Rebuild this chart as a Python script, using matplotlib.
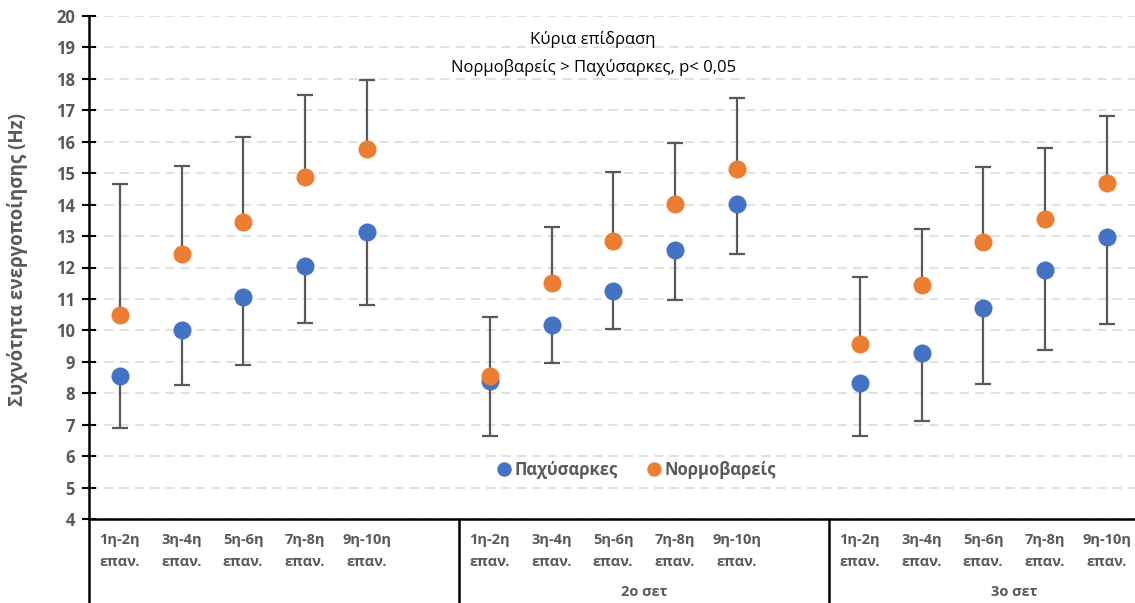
#!/usr/bin/env python3
"""Activation frequency per repetition pair and set, obese vs normal-weight groups."""

import matplotlib
matplotlib.use("Agg")
import matplotlib.pyplot as plt
from matplotlib.transforms import blended_transform_factory
import numpy as np

plt.rcParams["font.family"] = ["Open Sans", "DejaVu Sans"]

# -- Data --------------------------------------------------
reps = ["1η-2η", "3η-4η", "5η-6η", "7η-8η", "9η-10η"]
sets = ["", "2ο σετ", "3ο σετ"]

obese_mean = [8.54, 10.01, 11.05, 12.06, 13.14,
              8.40, 10.17, 11.25, 12.56, 14.03,
              8.34, 9.27, 10.72, 11.93, 12.98]
obese_low = [6.90, 8.25, 8.90, 10.24, 10.82,
             6.65, 8.96, 10.03, 10.97, 12.44,
             6.65, 7.12, 8.28, 9.36, 10.19]

normal_mean = [10.49, 12.44, 13.44, 14.89, 15.77,
               8.55, 11.51, 12.83, 14.03, 15.14,
               9.57, 11.43, 12.81, 13.54, 14.69]
normal_high = [14.66, 15.22, 16.16, 17.49, 17.98,
               10.44, 13.30, 15.04, 15.97, 17.39,
               11.69, 13.22, 15.20, 15.79, 16.83]

BLUE = "#4472C4"
ORANGE = "#ED7D31"
GREY = "#595959"
SLOTS = 6  # five repetition pairs plus an empty slot per set

x = np.array([g * SLOTS + i + 0.5 for g in range(len(sets)) for i in range(len(reps))])
obese_mean = np.array(obese_mean)
normal_mean = np.array(normal_mean)

# -- Figure ------------------------------------------------
W, H = 1135, 603
fig = plt.figure(figsize=(W / 100, H / 100), dpi=100)
ax_left, ax_bottom, ax_top = 89, 519, 16
ax = fig.add_axes([ax_left / W, 1 - ax_bottom / H, 1 - ax_left / W, (ax_bottom - ax_top) / H])

slot_px = 61.67
ax.set_xlim(0, (W - ax_left) / slot_px)
ax.set_ylim(4, 20)

ax.errorbar(x, obese_mean, yerr=[obese_mean - np.array(obese_low), np.zeros_like(obese_mean)],
            fmt="none", ecolor=GREY, elinewidth=1.6, capsize=5.5, capthick=1.6, zorder=2)
ax.errorbar(x, normal_mean, yerr=[np.zeros_like(normal_mean), np.array(normal_high) - normal_mean],
            fmt="none", ecolor=GREY, elinewidth=1.6, capsize=5.5, capthick=1.6, zorder=2)
ax.plot(x, obese_mean, "o", color=BLUE, markersize=13, markeredgewidth=0, zorder=3,
        label="Παχύσαρκες")
ax.plot(x, normal_mean, "o", color=ORANGE, markersize=13, markeredgewidth=0, zorder=4,
        label="Νορμοβαρείς")

# axes styling
ax.set_yticks(range(4, 21))
ax.yaxis.grid(True, color="#D9D9D9", linestyle=(0, (6, 4)), linewidth=1.1)
ax.set_axisbelow(True)
ax.tick_params(axis="y", direction="inout", length=10, width=1.5, colors="black",
               labelcolor=GREY, labelsize=12, pad=5)
for lab in ax.get_yticklabels():
    lab.set_fontweight("bold")
ax.set_xticks([])
for side in ("top", "right"):
    ax.spines[side].set_visible(False)
ax.spines["left"].set_linewidth(1.8)
ax.spines["bottom"].set_linewidth(1.8)

fig.text(18 / W, 1 - 260 / H, "Συχνότητα ενεργοποίησης (Hz)", rotation=90,
         ha="center", va="center", fontsize=13.5, fontweight="bold", color=GREY)

# multi-level category labels
trans = blended_transform_factory(ax.transData, ax.transAxes)
span = ax_bottom - ax_top
y_row1 = -(540 - ax_bottom) / span
y_row2 = -(562 - ax_bottom) / span
y_set = -(592 - ax_bottom) / span
y_end = -(H - ax_bottom) / span
for xi, i in zip(x, list(range(len(reps))) * len(sets)):
    ax.text(xi, y_row1, reps[i], transform=trans, ha="center", va="center",
            fontsize=10.5, fontweight="bold", color=GREY)
    ax.text(xi, y_row2, "επαν.", transform=trans, ha="center", va="center",
            fontsize=10.5, fontweight="bold", color=GREY)
for g, name in enumerate(sets):
    if name:
        ax.text(g * SLOTS + SLOTS / 2, y_set, name, transform=trans, ha="center", va="center",
                fontsize=10.5, fontweight="bold", color=GREY)
for g in range(len(sets)):
    ax.plot([g * SLOTS, g * SLOTS], [0, y_end], transform=trans, color="black",
            linewidth=1.8, clip_on=False, solid_capstyle="butt")

# annotation
ax.text(0.482, 0.953, "Κύρια επίδραση", transform=ax.transAxes, ha="center", va="center",
        fontsize=12, color="black")
ax.text(0.482, 0.898, "Νορμοβαρείς > Παχύσαρκες, p< 0,05", transform=ax.transAxes,
        ha="center", va="center", fontsize=12, color="black")

leg = ax.legend(loc="center", bbox_to_anchor=(0.522, 0.097), ncol=2, frameon=False,
                handletextpad=0.0, handlelength=1.2, columnspacing=1.6, markerscale=0.8,
                prop={"size": 12, "weight": "bold"})
for t in leg.get_texts():
    t.set_color(GREY)

fig.savefig("out.png", dpi=100)
